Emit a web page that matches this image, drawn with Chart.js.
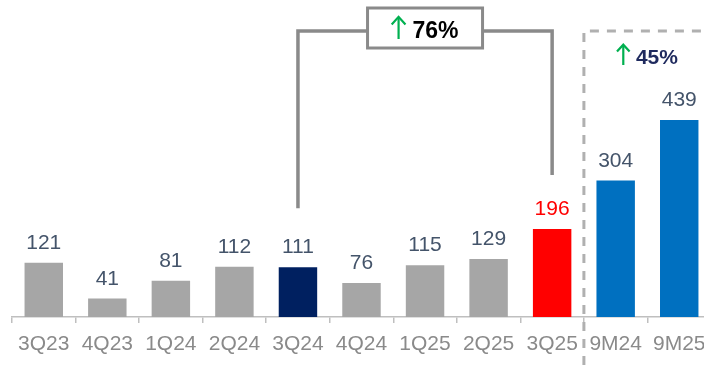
<!DOCTYPE html>
<html>
<head>
<meta charset="utf-8">
<script src="https://cdn.jsdelivr.net/npm/chart.js@4/dist/chart.umd.min.js"></script>
<style>
  html, body { margin: 0; padding: 0; background: #fff; overflow: hidden; }
  #wrap { width: 720px; height: 371px; position: relative; }
</style>
</head>
<body>
<div id="wrap"><canvas id="c"></canvas></div>
<script>
// Periods and values
const categories = ['3Q23', '4Q23', '1Q24', '2Q24', '3Q24', '4Q24', '1Q25', '2Q25', '3Q25', '9M24', '9M25'];
const values = [121, 41, 81, 112, 111, 76, 115, 129, 196, 304, 439];
const barColors = ['#a6a6a6', '#a6a6a6', '#a6a6a6', '#a6a6a6', '#002060', '#a6a6a6', '#a6a6a6', '#a6a6a6', '#ff0000', '#0070c0', '#0070c0'];
const labelColors = ['#44546a', '#44546a', '#44546a', '#44546a', '#44546a', '#44546a', '#44546a', '#44546a', '#ff0000', '#44546a', '#44546a'];

// Growth call-outs: [from index, to index, text]
const quarterGrowth = { from: 4, to: 8, text: '76%' };
const nineMonthGrowth = { from: 9, to: 10, text: '45%' };

const FONT = '"Liberation Sans", Arial, sans-serif';

const annotations = {
  id: 'annotations',
  afterDatasetsDraw(chart) {
    const ctx = chart.ctx;
    const meta = chart.getDatasetMeta(0);
    const area = chart.chartArea;

    // value labels above bars
    ctx.save();
    ctx.font = '21px ' + FONT;
    ctx.textAlign = 'center';
    ctx.textBaseline = 'alphabetic';
    meta.data.forEach((bar, i) => {
      ctx.fillStyle = labelColors[i];
      ctx.fillText(String(values[i]), bar.x, bar.y - 14);
    });
    ctx.restore();

    // bracket between the two quarters
    const a = meta.data[quarterGrowth.from];
    const b = meta.data[quarterGrowth.to];
    const topY = area.top + 31;
    const boxW = 115, boxH = 40;
    const midX = (a.x + b.x) / 2;
    ctx.save();
    ctx.strokeStyle = '#8a8a8a';
    ctx.lineWidth = 3.5;
    ctx.lineJoin = 'miter';
    ctx.beginPath();
    ctx.moveTo(a.x, a.y - 59);
    ctx.lineTo(a.x, topY);
    ctx.lineTo(midX - boxW / 2, topY);
    ctx.stroke();
    ctx.beginPath();
    ctx.moveTo(midX + boxW / 2, topY);
    ctx.lineTo(b.x, topY);
    ctx.lineTo(b.x, b.y - 54);
    ctx.stroke();
    ctx.fillStyle = '#ffffff';
    ctx.lineWidth = 3;
    ctx.fillRect(midX - boxW / 2, topY - 23, boxW, boxH);
    ctx.strokeRect(midX - boxW / 2, topY - 23, boxW, boxH);
    drawGrowth(ctx, midX, topY + 7, quarterGrowth.text, '#000000', 23);
    ctx.restore();

    // dashed frame around the nine-month totals
    const c = meta.data[quarterGrowth.to];
    const d = meta.data[nineMonthGrowth.from];
    const sepX = (c.x + d.x) / 2;
    ctx.save();
    ctx.strokeStyle = '#b0b0b0';
    ctx.lineWidth = 3;
    ctx.setLineDash([9, 8]);
    ctx.beginPath();
    ctx.moveTo(sepX, chart.height - 6);
    ctx.lineTo(sepX, topY);
    ctx.lineTo(chart.width, topY);
    ctx.stroke();
    ctx.restore();

    const e = meta.data[nineMonthGrowth.to];
    ctx.save();
    drawGrowth(ctx, (d.x + e.x) / 2, area.top + 64, nineMonthGrowth.text, '#1f2a5e', 21);
    ctx.restore();
  }
};

// green up arrow followed by a bold percentage, centred on cx
function drawGrowth(ctx, cx, baseY, text, color, size) {
  ctx.font = 'bold ' + size + 'px ' + FONT;
  const tw = ctx.measureText(text).width;
  const arrowW = size * 0.6;
  const gap = size * 0.3;
  const total = arrowW + gap + tw;
  const x0 = cx - total / 2;
  const ax = x0 + arrowW / 2;
  const bottom = baseY + 1;
  const top = baseY - size * 0.92;
  ctx.save();
  ctx.strokeStyle = '#00b050';
  ctx.lineWidth = 2.2;
  ctx.lineCap = 'butt';
  ctx.beginPath();
  ctx.moveTo(ax, bottom);
  ctx.lineTo(ax, top + 1);
  ctx.stroke();
  ctx.beginPath();
  ctx.moveTo(ax - arrowW / 2, top + arrowW * 0.55);
  ctx.lineTo(ax, top);
  ctx.lineTo(ax + arrowW / 2, top + arrowW * 0.55);
  ctx.stroke();
  ctx.restore();
  ctx.font = 'bold ' + size + 'px ' + FONT;
  ctx.fillStyle = color;
  ctx.textAlign = 'left';
  ctx.textBaseline = 'alphabetic';
  ctx.fillText(text, x0 + arrowW + gap, baseY);
}

new Chart(document.getElementById('c'), {
  type: 'bar',
  data: {
    labels: categories,
    datasets: [{
      data: values,
      backgroundColor: barColors,
      borderWidth: 0,
      categoryPercentage: 1,
      barPercentage: 0.605
    }]
  },
  options: {
    responsive: true,
    maintainAspectRatio: false,
    animation: false,
    devicePixelRatio: 1,
    layout: { padding: { left: 12, right: 9, top: 0, bottom: 0 } },
    plugins: { legend: { display: false }, tooltip: { enabled: false } },
    scales: {
      x: {
        offset: true,
        grid: {
          display: true,
          offset: true,
          drawOnChartArea: false,
          drawTicks: true,
          tickLength: 6,
          color: '#bfbfbf',
          lineWidth: 1.5
        },
        border: { display: true, color: '#bfbfbf', width: 1.5 },
        ticks: {
          color: '#8a8a8a',
          font: { family: FONT, size: 21 },
          padding: 9,
          maxRotation: 0,
          autoSkip: false
        },
        afterFit(scale) { scale.height = 54; }
      },
      y: {
        display: false,
        min: 0,
        max: 706
      }
    }
  },
  plugins: [annotations]
});
</script>
</body>
</html>
